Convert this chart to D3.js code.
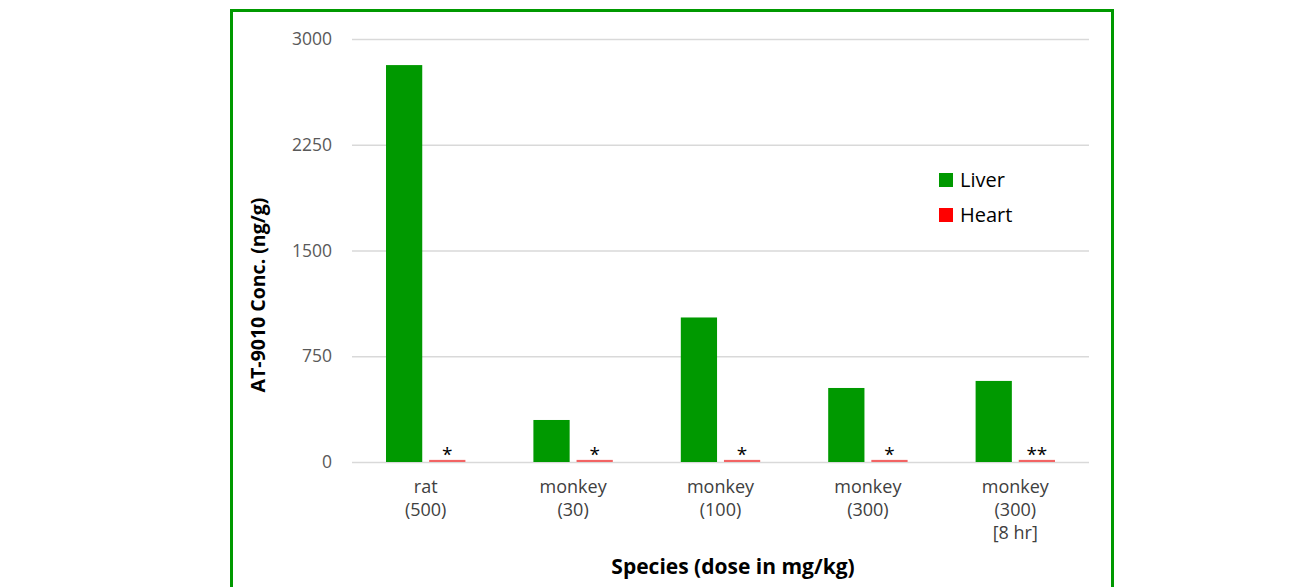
<!DOCTYPE html>
<html>
<head>
<meta charset="utf-8">
<script src="https://cdn.jsdelivr.net/npm/d3@7"></script>
<style>
  html, body { margin: 0; padding: 0; background: #fff; }
  svg { display: block; font-family: "Open Sans", "Noto Sans", sans-serif; }
</style>
</head>
<body>
<div id="chart"></div>
<script>
// categories, two rows of label each (third row only on the last one)
var categories = ["rat", "monkey30", "monkey100", "monkey300", "monkey300_8hr"];
var catLabels = [["rat", "(500)"], ["monkey", "(30)"], ["monkey", "(100)"], ["monkey", "(300)"], ["monkey", "(300)", "[8 hr]"]];
var series = ["Liver", "Heart"];
var liver = [2815, 298, 1025, 525, 575];
var heart = [15, 15, 15, 15, 15];
var heartMarks = ["*", "*", "*", "*", "**"];
var yTicks = [0, 750, 1500, 2250, 3000];

var W = 1297, H = 587;
var colors = { Liver: "#009900", Heart: "#f26464" };

var svg = d3.select("#chart").append("svg").attr("width", W).attr("height", H);

// green frame around the chart
svg.append("rect")
  .attr("x", 231.5).attr("y", 10.5)
  .attr("width", 881).attr("height", 620)
  .attr("fill", "none").attr("stroke", "#009900").attr("stroke-width", 3);

var x = d3.scaleBand().domain(categories).range([352, 1089]);
var inner = d3.scaleBand().domain(series).range([34, x.bandwidth() - 34]).paddingInner(0.16);
var y = d3.scaleLinear().domain([0, 3000]).range([462, 39]);

// gridlines
svg.append("g").selectAll("line").data(yTicks).enter().append("line")
  .attr("x1", 352).attr("x2", 1089)
  .attr("y1", function(d) { return y(d) + 0.5; })
  .attr("y2", function(d) { return y(d) + 0.5; })
  .attr("stroke", "#d9d9d9").attr("stroke-width", 1.5);

// y tick labels
svg.append("g").selectAll("text").data(yTicks).enter().append("text")
  .attr("x", 332).attr("y", function(d) { return y(d) + 6; })
  .attr("text-anchor", "end")
  .attr("font-size", 17.5).attr("fill", "#595959")
  .text(function(d) { return d; });

// bars
var rows = categories.map(function(c, i) {
  return { cat: c, Liver: liver[i], Heart: heart[i], mark: heartMarks[i] };
});
var groups = svg.append("g").selectAll("g").data(rows).enter().append("g")
  .attr("transform", function(d) { return "translate(" + x(d.cat) + ",0)"; });

groups.selectAll("rect").data(function(d) {
  return series.map(function(s) { return { key: s, value: d[s] }; });
}).enter().append("rect")
  .attr("x", function(d) { return inner(d.key); })
  .attr("width", inner.bandwidth())
  .attr("y", function(d) { return y(d.value); })
  .attr("height", function(d) { return y(0) - y(d.value); })
  .attr("fill", function(d) { return colors[d.key]; });

// asterisks over the heart bars
groups.append("text")
  .attr("x", inner("Heart") + inner.bandwidth() / 2)
  .attr("y", function(d) { return y(d.Heart) + 1; })
  .attr("text-anchor", "middle")
  .attr("font-size", 19).attr("fill", "#000")
  .text(function(d) { return d.mark; });

// category labels
var labels = svg.append("g").selectAll("text").data(categories).enter().append("text")
  .attr("text-anchor", "middle")
  .attr("font-size", 18).attr("fill", "#404040");
labels.each(function(c, i) {
  var t = d3.select(this);
  catLabels[i].forEach(function(line, j) {
    t.append("tspan")
      .attr("x", x(c) + x.bandwidth() / 2)
      .attr("y", 493 + j * 23)
      .text(line);
  });
});

// axis titles
svg.append("text")
  .attr("x", 733).attr("y", 574)
  .attr("text-anchor", "middle")
  .attr("font-size", 21).attr("font-weight", "bold").attr("fill", "#000")
  .text("Species (dose in mg/kg)");

svg.append("text")
  .attr("transform", "translate(265,295) rotate(-90)")
  .attr("text-anchor", "middle")
  .attr("font-size", 19.5).attr("font-weight", "bold").attr("fill", "#000")
  .text("AT-9010 Conc. (ng/g)");

// legend
var legend = svg.append("g").selectAll("g").data(series).enter().append("g")
  .attr("transform", function(d, i) { return "translate(939," + (173 + i * 35) + ")"; });
legend.append("rect").attr("width", 14).attr("height", 14)
  .attr("fill", function(d) { return d === "Heart" ? "#ff0000" : colors[d]; });
legend.append("text").attr("x", 21).attr("y", 14)
  .attr("font-size", 20).attr("fill", "#000")
  .text(function(d) { return d; });
</script>
</body>
</html>
